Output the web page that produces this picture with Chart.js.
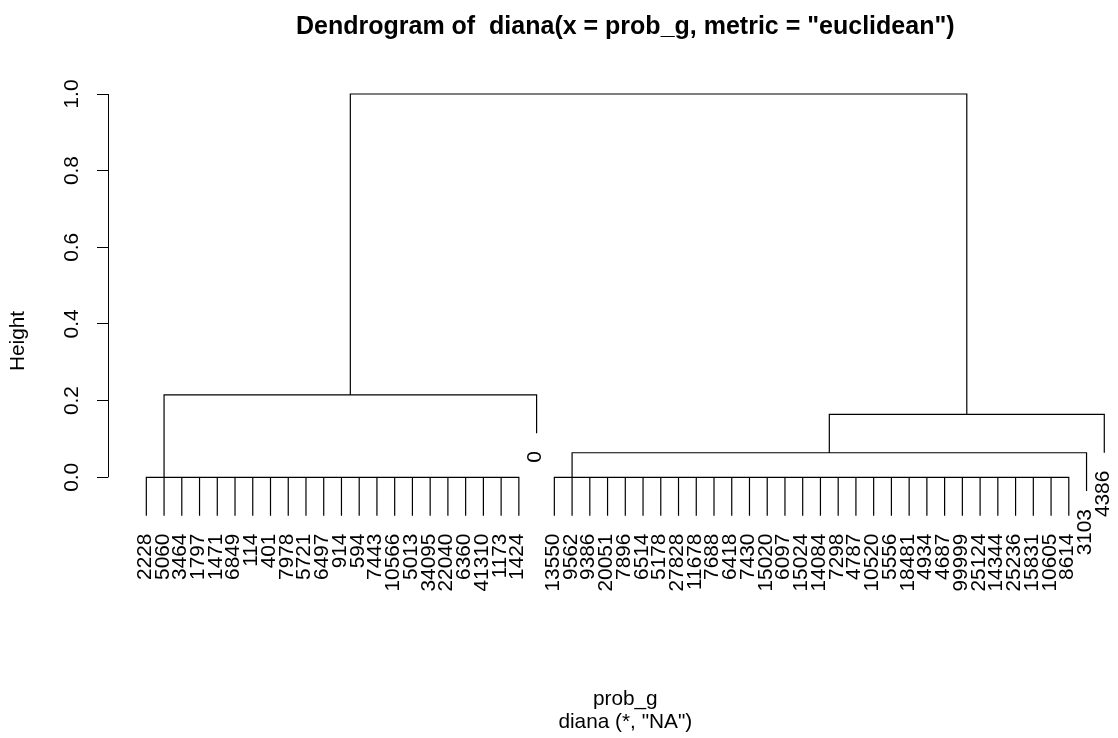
<!DOCTYPE html>
<html lang="en">
<head>
<meta charset="UTF-8">
<title>Dendrogram of diana</title>
<script src="https://cdn.jsdelivr.net/npm/chart.js"></script>
<style>
    html, body { margin: 0; padding: 0; background: #fff; overflow: hidden; }
    #wrap { width: 1160px; height: 738px; }
</style>
</head>
<body>
<div id="wrap"><canvas id="dendro" width="1160" height="738"></canvas></div>
<script>
// leaves, in plotting order
const leftLeaves = ['2228', '5060', '3464', '1797', '1471', '6849', '114', '401', '7978', '5721', '6497',
    '914', '594', '7443', '10566', '5013', '34095', '22040', '6360', '41310', '1173', '1424'];
const loneLeaf = '0';
const rightLeaves = ['13550', '9562', '9386', '20051', '7896', '6514', '5178', '27828', '11678', '7688',
    '6418', '7430', '15020', '6097', '15024', '14084', '7298', '4787', '10520', '5556', '18481', '4934',
    '4687', '99999', '25124', '14344', '25236', '15831', '10605', '8614'];
const outlierLeaves = ['3103', '4386'];

// merge heights above the zero-height groups
const hLeft = 0.215;       // left group + "0"
const hRightInner = 0.064; // right group + 3103
const hRightOuter = 0.164; // ... + 4386
const hRoot = 1.0;
const hang = 0.1;

const yTicks = [0, 0.2, 0.4, 0.6, 0.8, 1.0];

const FONT = '"Liberation Sans", Arial, sans-serif';
const BASE = 20.8;

// ---- tree ----
function leaf(label) { return { label: label }; }
function node(a, b, h) { return { left: a, right: b, height: h }; }
// identical points: diana peels them off one by one at height 0
function chain(labels) {
    if (labels.length === 2) return node(leaf(labels[0]), leaf(labels[1]), 0);
    return node(leaf(labels[0]), chain(labels.slice(1)), 0);
}

const tree = node(
    node(chain(leftLeaves), leaf(loneLeaf), hLeft),
    node(node(chain(rightLeaves), leaf(outlierLeaves[0]), hRightInner), leaf(outlierLeaves[1]), hRightOuter),
    hRoot
);

let pos = 0;
const leaves = [];
const segs = [];

function layout(n, parentH) {
    if (!n.left) {
        pos += 1;
        n.x = pos;
        n.top = parentH - hang;
        leaves.push({ label: n.label, x: n.x, bottom: n.top });
        return;
    }
    layout(n.left, n.height);
    layout(n.right, n.height);
    n.x = (n.left.x + n.right.x) / 2;
    n.top = n.height;
    segs.push({ x: n.left.x, y: n.left.top }, { x: n.left.x, y: n.height },
        { x: n.right.x, y: n.height }, { x: n.right.x, y: n.right.top },
        { x: n.right.x, y: null });
}
layout(tree, hRoot);

const nLeaves = leaves.length;
const xPad = 0.04 * (nLeaves - 1);

const leafLabels = {
    id: 'leafLabels',
    afterDatasetsDraw(chart) {
        const { ctx, scales } = chart;
        ctx.save();
        ctx.font = BASE + 'px ' + FONT;
        ctx.fillStyle = '#000';
        ctx.textAlign = 'right';
        ctx.textBaseline = 'alphabetic';
        leaves.forEach(l => {
            const px = scales.x.getPixelForValue(l.x);
            const py = scales.y.getPixelForValue(l.bottom) + 18;
            ctx.save();
            ctx.translate(px, py);
            ctx.rotate(-Math.PI / 2);
            ctx.fillText(l.label, 0, 0.3 * 0.716 * BASE);
            ctx.restore();
        });
        // y axis line, only over the tick range
        const ax = Math.round(scales.y.right) + 0.5;
        ctx.strokeStyle = '#000';
        ctx.lineWidth = 1;
        ctx.beginPath();
        ctx.moveTo(ax, scales.y.getPixelForValue(yTicks[0]));
        ctx.lineTo(ax, scales.y.getPixelForValue(yTicks[yTicks.length - 1]));
        ctx.stroke();
        ctx.restore();
    }
};

Chart.defaults.font.family = FONT;
Chart.defaults.color = '#000';

new Chart(document.getElementById('dendro'), {
    type: 'line',
    data: {
        datasets: [{
            data: segs,
            borderColor: '#000',
            borderWidth: 1.2,
            pointRadius: 0,
            tension: 0,
            spanGaps: false,
            fill: false
        }]
    },
    options: {
        responsive: false,
        animation: false,
        events: [],
        layout: { padding: { left: 0, right: 17.4, top: 0, bottom: 0 } },
        scales: {
            x: {
                type: 'linear',
                position: 'bottom',
                min: 1 - xPad,
                max: nLeaves + xPad,
                ticks: { display: false },
                grid: { display: false },
                border: { display: false },
                title: {
                    display: true,
                    text: ['prob_g', 'diana (*, "NA")'],
                    font: { size: BASE, lineHeight: '23px' },
                    padding: { top: 0, bottom: 4.7 }
                },
                afterFit(scale) { scale.height = 133.1; }
            },
            y: {
                type: 'linear',
                position: 'left',
                min: -0.3329,
                max: 1.0441,
                afterBuildTicks(scale) { scale.ticks = yTicks.map(v => ({ value: v })); },
                ticks: {
                    minRotation: 90,
                    maxRotation: 90,
                    crossAlign: 'center',
                    padding: 10,
                    font: { size: BASE },
                    callback: v => v.toFixed(1)
                },
                grid: { drawOnChartArea: false, drawTicks: true, tickLength: 11, color: '#000', lineWidth: 1 },
                border: { display: false },
                title: {
                    display: true,
                    text: 'Height',
                    font: { size: BASE },
                    padding: { top: 5.5, bottom: 0 }
                },
                afterFit(scale) { scale.width = 108; }
            }
        },
        plugins: {
            legend: { display: false },
            tooltip: { enabled: false },
            title: {
                display: true,
                fullSize: false,
                text: 'Dendrogram of  diana(x = prob_g, metric = "euclidean")',
                font: { size: 25, weight: 'bold' },
                padding: { top: 12.5, bottom: 34.6 }
            }
        }
    },
    plugins: [leafLabels]
});
</script>
</body>
</html>
